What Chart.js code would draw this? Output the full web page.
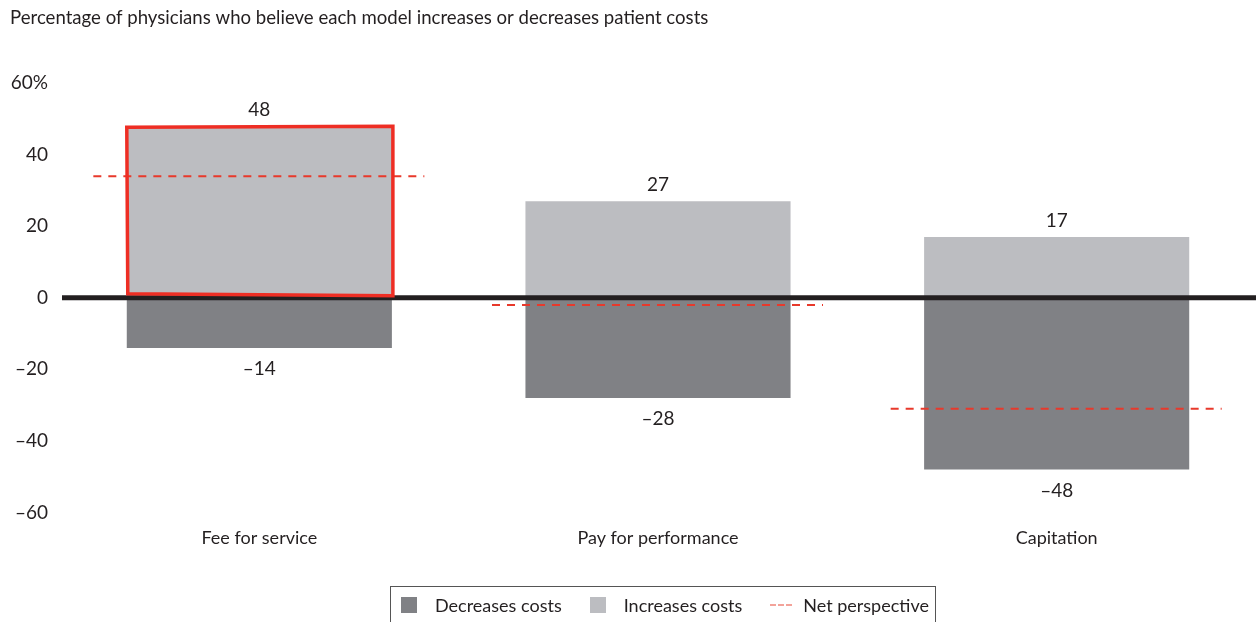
<!DOCTYPE html>
<html>
<head>
<meta charset="utf-8">
<script src="https://cdn.jsdelivr.net/npm/chart.js@4.4.1/dist/chart.umd.min.js"></script>
<style>
  html, body { margin: 0; padding: 0; background: #fff; overflow: hidden; }
  body { width: 1256px; height: 622px; position: relative; font-family: Lato, sans-serif; color: #231f20; }
  #wrap { position: absolute; left: 0; top: 0; width: 1256px; height: 622px; }
  #legend {
    position: absolute; left: 390px; top: 586px; height: 42px;
    display: inline-flex; align-items: center;
    border: 1px solid #555; box-sizing: border-box;
    padding: 0 6px 4px 10px; font-size: 18px; white-space: nowrap;
  }
  #legend .sw { width: 16px; height: 16px; margin-right: 18px; }
  #legend .item { display: flex; align-items: center; margin-right: 28px; }
  #legend .item:last-child { margin-right: 0; }
  #legend .dash { width: 22px; height: 0; border-top: 2px dashed #f3a39a; margin-right: 11px; }
</style>
</head>
<body>
<div id="wrap"><canvas id="myChart" width="1256" height="622"></canvas></div>
<div id="legend">
  <div class="item"><div class="sw" style="background:#808185"></div>Decreases costs</div>
  <div class="item"><div class="sw" style="background:#bcbdc1"></div>Increases costs</div>
  <div class="item"><div class="dash"></div>Net perspective</div>
</div>
<script>
const categories = ['Fee for service', 'Pay for performance', 'Capitation'];
const increases = [48, 27, 17];
const decreases = [-14, -28, -48];
const netPerspective = [34, -2, -31];
const yTicks = [-60, -40, -20, 0, 20, 40, 60];

const fmt = v => v < 0 ? '\u2013' + Math.abs(v) : String(v);

const overlay = {
  id: 'overlay',
  afterDatasetsDraw(chart) {
    const ctx = chart.ctx;
    const x = chart.scales.x, y = chart.scales.y;
    const area = chart.chartArea;
    ctx.save();

    // zero line
    const y0 = y.getPixelForValue(0);
    ctx.strokeStyle = '#231f20';
    ctx.lineWidth = 5;
    ctx.beginPath();
    ctx.moveTo(area.left + 2, y0);
    ctx.lineTo(area.right, y0);
    ctx.stroke();

    // net perspective dashes
    ctx.strokeStyle = '#e8392b';
    ctx.lineWidth = 2;
    ctx.setLineDash([8, 7]);
    netPerspective.forEach((v, i) => {
      const cx = x.getPixelForValue(i);
      const py = y.getPixelForValue(v);
      ctx.beginPath();
      ctx.moveTo(cx - 166, py);
      ctx.lineTo(cx + 165, py);
      ctx.stroke();
    });
    ctx.setLineDash([]);

    // hand drawn highlight round first increase bar
    const bar = chart.getDatasetMeta(1).data[0];
    const l = bar.x - bar.width / 2, r = bar.x + bar.width / 2;
    ctx.strokeStyle = '#ee2e24';
    ctx.lineWidth = 3.5;
    ctx.beginPath();
    ctx.moveTo(l, bar.y + 1);
    ctx.lineTo(r + 1, bar.y);
    ctx.lineTo(r + 1, bar.base - 2);
    ctx.lineTo(l + 1, bar.base - 4);
    ctx.closePath();
    ctx.stroke();

    // value labels
    ctx.fillStyle = '#231f20';
    ctx.font = '19px Lato, sans-serif';
    ctx.textAlign = 'center';
    ctx.textBaseline = 'middle';
    chart.getDatasetMeta(1).data.forEach((b, i) => {
      ctx.fillText(fmt(increases[i]), b.x, b.y - 16);
    });
    chart.getDatasetMeta(0).data.forEach((b, i) => {
      ctx.fillText(fmt(decreases[i]), b.x, b.y + 21);
    });
    ctx.restore();
  }
};

new Chart(document.getElementById('myChart').getContext('2d'), {
  type: 'bar',
  data: {
    labels: categories,
    datasets: [
      { label: 'Decreases costs', data: decreases, backgroundColor: '#808185' },
      { label: 'Increases costs', data: increases, backgroundColor: '#bcbdc1' }
    ]
  },
  options: {
    responsive: false,
    animation: false,
    layout: { padding: { left: 10, right: 0, top: 0, bottom: 58 } },
    datasets: { bar: { categoryPercentage: 1, barPercentage: 0.665 } },
    plugins: {
      legend: { display: false },
      tooltip: { enabled: false },
      title: {
        display: true,
        text: 'Percentage of physicians who believe each model increases or decreases patient costs',
        align: 'start',
        color: '#231f20',
        font: { family: 'Lato, sans-serif', size: 18.6, weight: 'normal' },
        padding: { top: 7, bottom: 54 }
      }
    },
    scales: {
      x: {
        stacked: true,
        grid: { display: false, drawTicks: false },
        border: { display: false },
        ticks: { color: '#231f20', padding: 15, font: { family: 'Lato, sans-serif', size: 18 } }
      },
      y: {
        stacked: true,
        min: -60,
        max: 60,
        grid: { display: false, drawTicks: false },
        border: { display: false },
        afterFit: s => { s.width = 50; },
        afterBuildTicks: s => { s.ticks = yTicks.map(v => ({ value: v })); },
        ticks: {
          color: '#231f20',
          padding: 12,
          font: { family: 'Lato, sans-serif', size: 19 },
          callback: v => v === 60 ? '60%' : fmt(v)
        }
      }
    }
  },
  plugins: [overlay]
});
</script>
</body>
</html>
